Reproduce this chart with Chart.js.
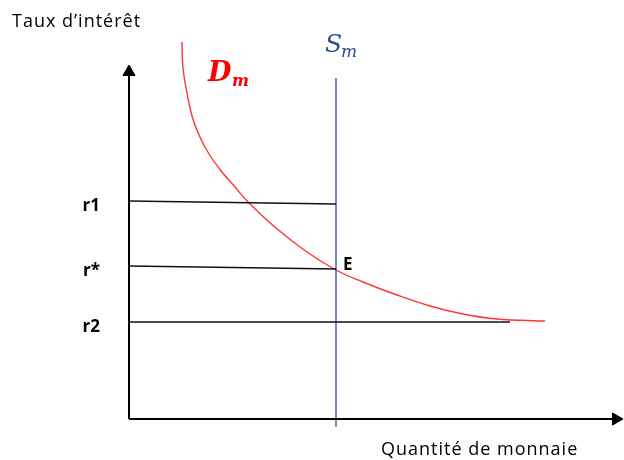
<!DOCTYPE html>
<html>
<head>
<meta charset="utf-8">
<script src="https://cdn.jsdelivr.net/npm/chart.js@4"></script>
<style>
  html, body { margin: 0; padding: 0; background: #fff; }
  #wrap { width: 624px; height: 460px; }
</style>
</head>
<body>
<div id="wrap"><canvas id="c" width="624" height="460"></canvas></div>
<script>
// --- données (unités du graphique : quantité / taux) ---
const demandQ = [53, 54, 58, 63, 70, 80, 93, 106, 119, 147, 178, 207, 234, 268, 301, 334, 368, 416];
const demandR = [377, 351, 326, 303, 284, 265, 247, 232, 217, 191, 167, 149, 137, 124, 113, 105, 100, 98];
const supplyQ = 207;                 // offre de monnaie fixe
const supplyR = [-8, 341];           // étendue verticale de S_m
const rateNames = ["r1", "r*", "r2"];
const rateLeft = [218, 153, 97];     // taux à gauche (axe)
const rateRight = [215, 150, 97];    // taux au bout de la ligne
const rateEndQ = [207, 207, 381];
const axisQmax = 494, axisRmax = 354;
const arrowR = 7;

const black = "#000";
const red = "rgba(255,0,0,0.8)";
const blue = "#2A4F94";

const lineDs = (data, color, width) => ({
  data, borderColor: color, borderWidth: width, pointRadius: 0, showLine: true, fill: false
});

const datasets = [
  // axes
  lineDs([{x: 0, y: 0}, {x: 0, y: axisRmax - arrowR}], black, 2),
  lineDs([{x: 0, y: 0}, {x: axisQmax - arrowR, y: 0}], black, 2),
  // niveaux de taux
  ...rateNames.map((n, i) => lineDs([{x: 0, y: rateLeft[i]}, {x: rateEndQ[i], y: rateRight[i]}], "#111", 1.3)),
  // offre
  lineDs([{x: supplyQ, y: supplyR[0]}, {x: supplyQ, y: supplyR[1]}], blue, 1.3),
  // demande
  Object.assign(lineDs(demandQ.map((q, i) => ({x: q, y: demandR[i]})), red, 1.4), { tension: 0.4 }),
  // pointes de flèches
  { data: [{x: 0, y: axisRmax - arrowR}], pointStyle: "triangle", rotation: 0, pointRadius: arrowR,
    backgroundColor: black, borderColor: black, borderWidth: 1, showLine: false },
  { data: [{x: axisQmax - arrowR, y: 0}], pointStyle: "triangle", rotation: 90, pointRadius: arrowR,
    backgroundColor: black, borderColor: black, borderWidth: 1, showLine: false },
];

const labels = {
  id: "labels",
  afterDatasetsDraw(chart) {
    const { ctx, scales: { x, y } } = chart;
    ctx.save();
    ctx.textBaseline = "middle";
    ctx.fillStyle = "#000";
    ctx.font = '18px "Open Sans"';
    ctx.letterSpacing = "1px";
    ctx.textAlign = "left";
    ctx.fillText("Taux d\u2019intérêt", 12, 22);
    ctx.fillText("Quantité de monnaie", 381, 450);
    ctx.letterSpacing = "0px";

    ctx.font = 'bold 17px "Open Sans"';
    ctx.textAlign = "right";
    rateNames.forEach((n, i) => ctx.fillText(n, x.getPixelForValue(0) - 29, y.getPixelForValue(rateLeft[i]) + 5));
    ctx.textAlign = "left";
    ctx.fillText("E", x.getPixelForValue(supplyQ) + 7, y.getPixelForValue(rateRight[1]) - 4);

    // D_m
    ctx.fillStyle = "#ff0000";
    ctx.font = 'bold italic 27px "DejaVu Serif"';
    ctx.fillText("D", 208, 74);
    ctx.font = 'bold italic 16px "DejaVu Serif"';
    ctx.fillText("m", 232, 82);
    // S_m
    ctx.fillStyle = blue;
    ctx.font = 'italic 25px "DejaVu Serif"';
    ctx.fillText("S", 325, 45);
    ctx.font = 'italic 17px "DejaVu Serif"';
    ctx.fillText("m", 341, 53);
    ctx.restore();
  }
};

new Chart(document.getElementById("c"), {
  type: "scatter",
  data: { datasets },
  options: {
    responsive: false,
    animation: false,
    layout: { padding: 0, autoPadding: false },
    plugins: { legend: { display: false }, tooltip: { enabled: false } },
    scales: {
      x: { type: "linear", min: -129, max: 495, display: false },
      y: { type: "linear", min: -41, max: 419, display: false }
    }
  },
  plugins: [labels]
});
</script>
</body>
</html>
